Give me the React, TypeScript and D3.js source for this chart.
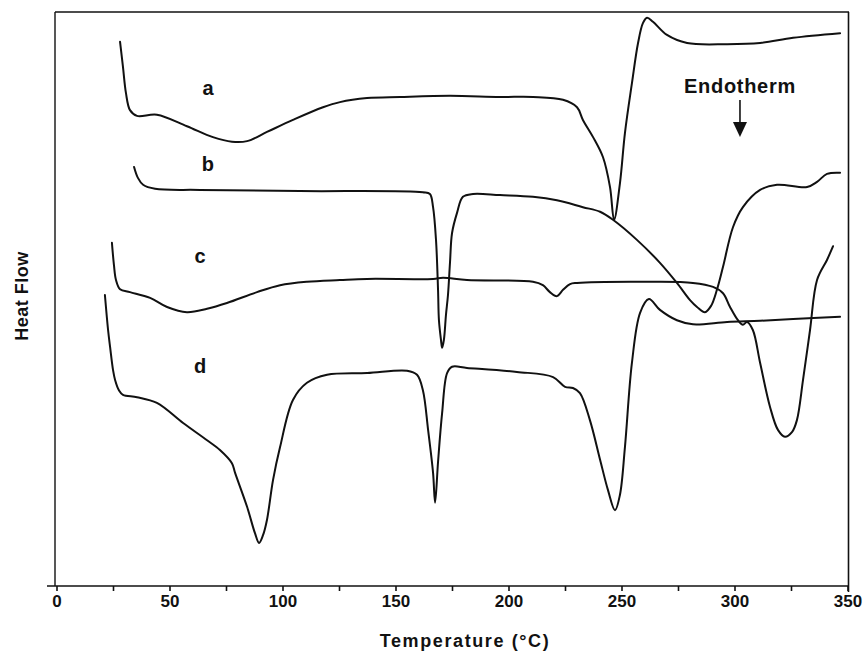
import React from "react";
import * as d3 from "d3";

// Temperature (°C) and heat flow (arbitrary units)
const aT = [27.9, 29.2, 30.5, 32.3, 35.4, 44.2, 57.5, 69.0, 77.4, 84.1, 92.9, 104.4, 117.7, 125.2, 137.2, 151.8, 173.9, 196.0, 210.6, 223.9, 230.1, 232.7, 237.2, 241.6, 244.7, 246.5, 249.1, 251.3, 254.4, 257.1, 259.3, 261.1, 263.7, 269.9, 278.8, 296.5, 311.1, 325.7, 346.5];
const aV = [94.8, 90.4, 85.9, 82.9, 81.9, 82.1, 80.1, 78.2, 77.4, 77.5, 79.1, 81.2, 83.4, 84.3, 85.0, 85.2, 85.4, 85.2, 85.2, 84.7, 83.4, 81.2, 78.2, 74.7, 69.5, 63.8, 70.2, 78.9, 87.6, 94.6, 98.1, 99.0, 98.3, 96.0, 94.6, 94.4, 94.6, 95.5, 96.3];

const bT = [34.1, 35.8, 38.1, 43.4, 63.3, 107.5, 161.9, 165.0, 166.4, 167.7, 168.6, 169.0, 169.9, 170.4, 171.2, 172.1, 173.0, 173.9, 174.8, 177.0, 179.6, 184.1, 196.0, 210.6, 221.2, 232.7, 240.3, 246.0, 256.6, 266.8, 274.3, 280.1, 283.2, 286.7, 289.4, 292.0, 294.7, 299.1, 303.5, 311.1, 318.6, 331.9, 336.3, 340.7, 346.5];
const bV = [73.0, 71.1, 69.9, 69.2, 69.0, 68.8, 68.6, 68.3, 66.0, 60.3, 51.6, 46.3, 42.9, 41.5, 42.9, 47.2, 50.7, 56.4, 61.5, 65.0, 67.8, 68.3, 68.1, 67.8, 67.2, 66.0, 65.2, 63.8, 60.3, 56.3, 52.8, 49.8, 48.6, 47.7, 48.8, 51.6, 55.6, 62.5, 66.0, 69.0, 69.9, 69.5, 70.4, 71.8, 72.0];

const cT = [24.3, 25.2, 26.1, 27.9, 32.3, 41.2, 48.7, 57.5, 66.4, 75.2, 88.5, 98.7, 110.6, 125.2, 137.2, 166.4, 170.8, 181.4, 210.6, 215.0, 218.1, 221.2, 223.9, 227.0, 230.1, 263.7, 281.4, 290.3, 294.7, 297.8, 301.3, 303.5, 305.3, 307.9, 311.1, 315.5, 319.0, 322.1, 325.2, 327.4, 330.1, 333.2, 336.3, 340.7, 343.4];
const cV = [59.8, 55.9, 53.3, 51.7, 51.2, 50.2, 48.6, 47.7, 48.3, 49.3, 51.2, 52.4, 53.0, 53.3, 53.5, 53.5, 53.7, 53.3, 53.0, 52.4, 51.2, 50.5, 51.6, 52.6, 52.8, 53.0, 52.8, 52.1, 51.0, 48.6, 46.3, 45.5, 46.0, 44.6, 38.9, 31.2, 27.2, 26.0, 26.8, 28.9, 35.9, 44.6, 53.3, 56.8, 59.2];

const dT = [21.2, 22.6, 23.5, 24.8, 25.7, 27.4, 29.2, 35.4, 44.2, 55.8, 66.4, 72.1, 77.4, 78.8, 84.1, 87.6, 89.4, 91.2, 92.9, 95.6, 98.7, 104.4, 110.6, 119.5, 137.2, 154.9, 159.3, 161.9, 164.2, 166.4, 167.3, 168.6, 170.4, 172.6, 174.8, 181.4, 203.5, 219.5, 224.8, 228.3, 231.4, 235.8, 240.3, 243.8, 246.9, 249.1, 251.3, 254.4, 258.0, 261.9, 266.8, 274.3, 281.4, 296.5, 311.1, 325.7, 346.5];
const dV = [50.7, 44.6, 41.6, 37.6, 35.9, 34.1, 33.3, 32.9, 31.9, 28.4, 25.4, 23.7, 21.4, 19.7, 13.8, 9.2, 7.5, 8.9, 11.5, 18.5, 24.2, 32.4, 35.4, 36.8, 37.1, 37.5, 36.8, 34.1, 27.2, 19.7, 14.5, 21.6, 30.1, 37.1, 38.2, 38.0, 37.3, 36.4, 34.7, 34.5, 33.6, 28.9, 22.0, 16.7, 13.2, 15.9, 24.2, 38.9, 47.6, 50.0, 48.1, 46.3, 45.6, 46.0, 46.2, 46.5, 46.9];

const seriesNames = ["a", "b", "c", "d"];
const seriesT = [aT, bT, cT, dT];
const seriesV = [aV, bV, cV, dV];
// label anchor positions (temperature, heat flow)
const labelT = [66.8, 66.8, 63.3, 63.3];
const labelV = [85.5, 72.3, 56.3, 37.1];

const xTickValues = [0, 25, 50, 75, 100, 125, 150, 175, 200, 225, 250, 275, 300, 325, 350];
const xTickLabels = ["0", "50", "100", "150", "200", "250", "300", "350"];

const annotationText = "Endotherm";
const annotationT = 302.2;
const annotationV = 85.9;

const W = 863;
const H = 652;
const FONT = "'Liberation Sans', Arial, Helvetica, sans-serif";

export default function App() {
  const x = d3.scaleLinear().domain([0, 350]).range([57, 848]);
  const y = d3.scaleLinear().domain([0, 100]).range([586, 12]);
  const line = d3
    .line<[number, number]>()
    .x((p) => x(p[0]))
    .y((p) => y(p[1]))
    .curve(d3.curveCatmullRom.alpha(0.5));

  const ax = x(annotationT);
  const ay = y(annotationV);

  return (
    <svg
      width={W}
      height={H}
      style={{ position: "absolute", left: 0, top: 0, background: "#fff" }}
      fontFamily={FONT}
    >
      <rect x={0} y={0} width={W} height={H} fill="#fff" />
      {/* frame */}
      <line x1={55} y1={12} x2={849} y2={12} stroke="#111" strokeWidth={1.4} />
      <line x1={55} y1={12} x2={55} y2={586} stroke="#111" strokeWidth={1.4} />
      <line x1={848.5} y1={12} x2={848.5} y2={592} stroke="#111" strokeWidth={1.6} />
      <line x1={47} y1={586} x2={849} y2={586} stroke="#111" strokeWidth={1.6} />
      {xTickValues.map((t) => (
        <line key={t} x1={x(t)} x2={x(t)} y1={586} y2={591} stroke="#111" strokeWidth={1.6} />
      ))}
      {xTickLabels.map((s) => (
        <text
          key={s}
          x={x(+s)}
          y={607}
          textAnchor="middle"
          fontSize={17}
          fontWeight="bold"
          fill="#111"
        >
          {s}
        </text>
      ))}
      <text
        x={465}
        y={647}
        textAnchor="middle"
        fontSize={18}
        fontWeight="bold"
        letterSpacing={1.6}
        fill="#111"
      >
        Temperature (°C)
      </text>
      <text
        transform="translate(28,296) rotate(-90)"
        textAnchor="middle"
        fontSize={18}
        fontWeight="bold"
        letterSpacing={0.5}
        fill="#111"
      >
        Heat Flow
      </text>

      {seriesNames.map((name, i) => {
        const pts: [number, number][] = seriesT[i].map((t, j) => [t, seriesV[i][j]]);
        return (
          <path
            key={name}
            d={line(pts) || ""}
            fill="none"
            stroke="#111"
            strokeWidth={2}
            strokeLinejoin="round"
            strokeLinecap="round"
          />
        );
      })}
      {seriesNames.map((name, i) => (
        <text
          key={"l" + name}
          x={x(labelT[i])}
          y={y(labelV[i])}
          textAnchor="middle"
          fontSize={20}
          fontWeight="bold"
          fill="#111"
        >
          {name}
        </text>
      ))}

      <text x={ax} y={ay} textAnchor="middle" fontSize={20} fontWeight="bold" letterSpacing={0.7} fill="#111">
        {annotationText}
      </text>
      <line x1={ax} x2={ax} y1={ay + 7} y2={ay + 30} stroke="#111" strokeWidth={1.6} />
      <path d={`M${ax - 7},${ay + 29} L${ax + 7},${ay + 29} L${ax},${ay + 44} Z`} fill="#111" />
    </svg>
  );
}
